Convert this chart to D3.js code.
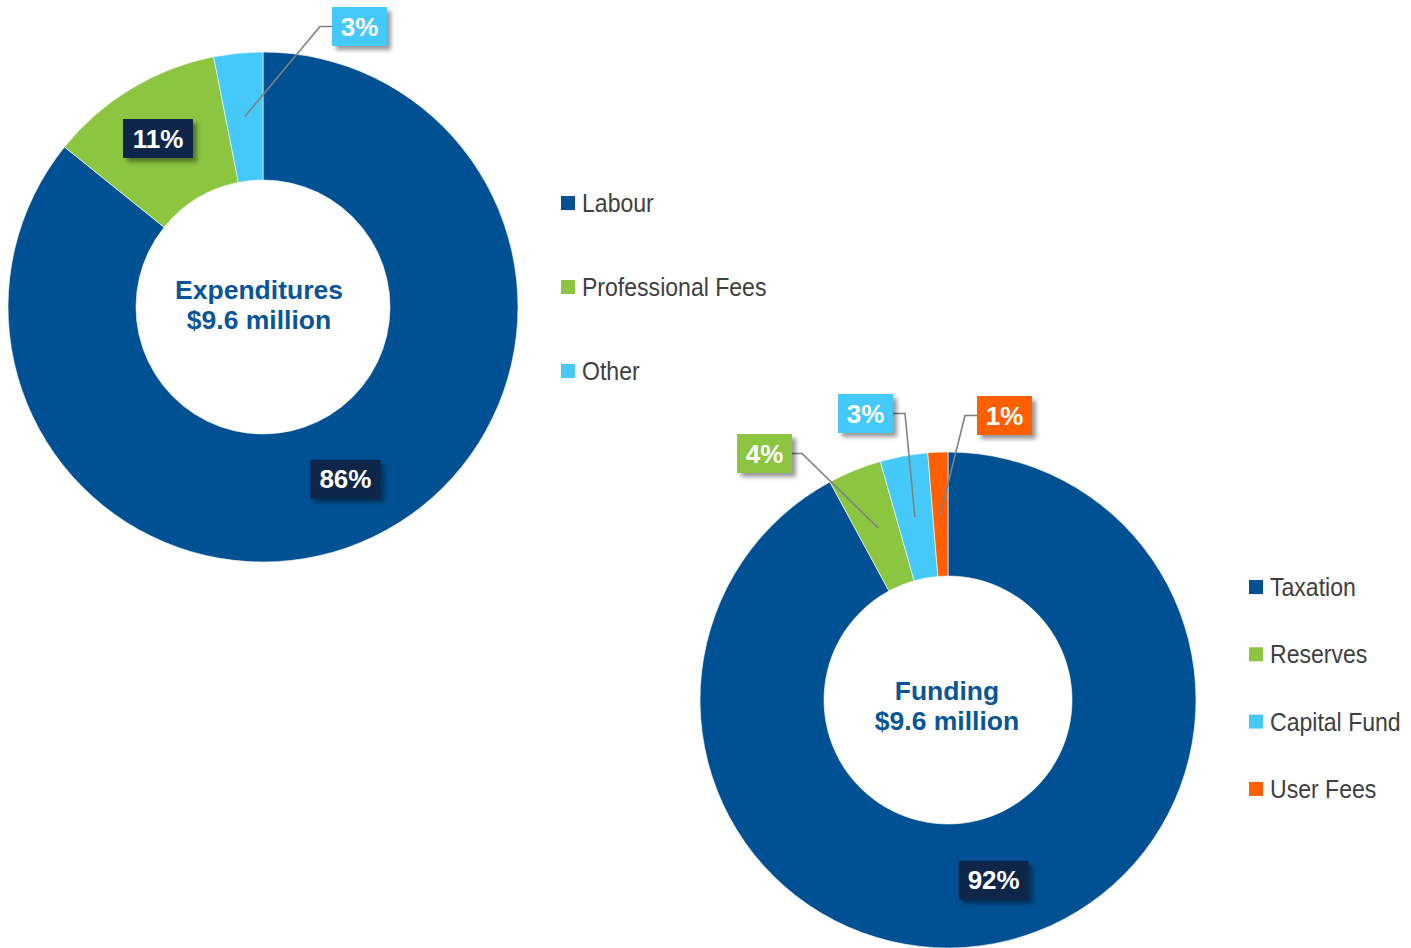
<!DOCTYPE html>
<html><head><meta charset="utf-8">
<script src="https://cdn.jsdelivr.net/npm/d3@7"></script>
<style>body{margin:0;background:#fff}svg{display:block}</style>
</head><body>
<svg id="c" width="1411" height="948"></svg>
<script>
const expCategories = ["Labour", "Professional Fees", "Other"];
const expValues = [85.8, 11.1, 3.1];
const expColors = ["#005193", "#8cc540", "#45c9fa"];
const fundCategories = ["Taxation", "Reserves", "Capital Fund", "User Fees"];
const fundValues = [92.1, 3.5, 3.1, 1.3];
const fundColors = ["#005193", "#8cc540", "#45c9fa", "#ff5f00"];
const centerTitles = [["Expenditures", "$9.6 million"], ["Funding", "$9.6 million"]];

const svg = d3.select("#c");
const defs = svg.append("defs");
const f = defs.append("filter").attr("id","sh").attr("x","-30%").attr("y","-30%").attr("width","160%").attr("height","160%");
f.append("feDropShadow").attr("dx",4).attr("dy",4).attr("stdDeviation",2.2).attr("flood-color","#000").attr("flood-opacity",0.4);

const navy = "#0c2848";

function donut(cfg){
  const g = svg.append("g").attr("transform",`translate(${cfg.cx},${cfg.cy})`);
  const pie = d3.pie().sort(null).value(d=>d.v);
  const data = cfg.cats.map((c,i)=>({c, v:cfg.vals[i], col:cfg.cols[i]}));
  const arcs = pie(data);
  const arc = d3.arc().innerRadius(cfg.ri).outerRadius(cfg.ro);
  const mid = d3.arc().innerRadius((cfg.ri+cfg.ro)/2).outerRadius((cfg.ri+cfg.ro)/2);
  g.selectAll("path.s").data(arcs).join("path").attr("class","s")
    .attr("d",arc).attr("fill",d=>d.data.col).attr("stroke","#fff").attr("stroke-width",0.6);
  // center text
  const t = g.append("text").attr("text-anchor","middle")
    .attr("font-family","'Liberation Sans', Arial, sans-serif").attr("font-weight","bold")
    .attr("font-size",26.5).attr("fill","#0a5597");
  cfg.title.forEach((s,i)=>t.append("tspan").attr("x",cfg.tx).attr("y",cfg.ty+i*30).text(s));
  // labels
  arcs.forEach((a,i)=>{
    const lay = cfg.labels[i];
    const [mx,my] = mid.centroid(a);
    const txt = Math.round(a.data.v) + "%";
    const w = txt.length===3 ? 70 : 55, h = 39;
    let bx, by;
    if(lay.inside){
      bx = (lay.x!==undefined ? lay.x - cfg.cx : mx - w/2);
      by = (lay.y!==undefined ? lay.y - cfg.cy : my - h/2);
    } else {
      bx = lay.x - cfg.cx; by = lay.y - cfg.cy;
      const ly = by + h/2;
      let ex = lay.side==="right" ? bx + w : bx;
      let kx = lay.side==="right" ? ex + lay.k : ex - lay.k;
      g.append("polyline").attr("points",`${ex},${ly} ${kx},${ly} ${mx},${my}`)
        .attr("fill","none").attr("stroke","#808080").attr("stroke-width",1.6);
    }
    const bg = g.append("g").attr("filter","url(#sh)");
    bg.append("rect").attr("x",bx).attr("y",by).attr("width",w).attr("height",h)
      .attr("fill", lay.inside ? navy : a.data.col);
    g.append("text").attr("x",bx+w/2).attr("y",by+h/2+9).attr("text-anchor","middle")
      .attr("font-family","'Liberation Sans', Arial, sans-serif").attr("font-weight","bold")
      .attr("font-size",26).attr("fill","#fff").text(txt);
  });
  // legend
  const lg = svg.append("g").attr("transform",`translate(${cfg.lx},${cfg.ly})`);
  data.forEach((d,i)=>{
    const y = i*cfg.lstep;
    lg.append("rect").attr("x",0).attr("y",y-7).attr("width",14).attr("height",14).attr("fill",d.col);
    lg.append("text").attr("transform",`translate(21,${y+9}) scale(0.87,1)`)
      .attr("font-family","'Liberation Sans', Arial, sans-serif")
      .attr("font-size",26.5).attr("fill","#404040").text(d.c);
  });
}

donut({cx:263, cy:307, ri:127, ro:255, cats:expCategories, vals:expValues, cols:expColors, title:centerTitles[0], tx:-4, ty:-8,
  labels:[{inside:true},{inside:true, x:123, y:119},{x:332,y:7,side:"left",k:12}],
  lx:561, ly:203, lstep:84});
donut({cx:948, cy:700, ri:124, ro:248, cats:fundCategories, vals:fundValues, cols:fundColors, title:centerTitles[1], tx:-1, ty:0,
  labels:[{inside:true},{x:737,y:434,side:"right",k:10},{x:838,y:394,side:"right",k:12},{x:977,y:396,side:"left",k:12}],
  lx:1249, ly:587, lstep:67.3});
</script>
</body></html>
